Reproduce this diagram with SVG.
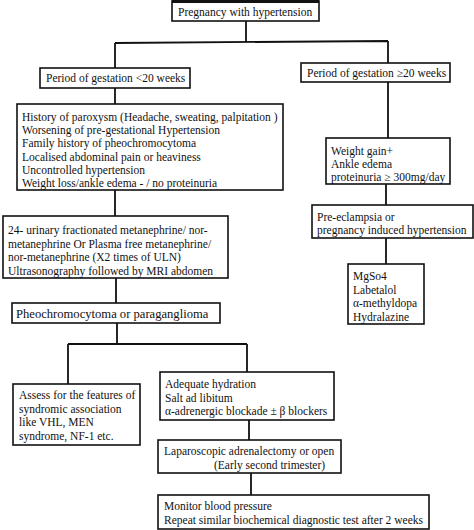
<svg xmlns="http://www.w3.org/2000/svg" width="474" height="530" viewBox="0 0 474 530">
<style>
.box{fill:#fff;stroke:#111;stroke-width:1.6}
.t{font-family:"Liberation Serif","Times New Roman",serif;font-size:11.5px;fill:#111}
.big{font-size:12.6px}
.c{fill:none;stroke:#111;stroke-width:1.8}
</style>
<rect width="474" height="530" fill="#fff"/>
<g id="connectors">
<path class="c" d="M246,21 V42 M115,43 L388,41 M115,43 V68 M388,41 V63 M115,88 V104 M115,190 V216 M116,278 V303 M117,323 V344 M68,344 H247 M68,344 V384 M247,344 V372 M249,420 V440 M251,473 V495 M388,82 V138 M386,184 V205 M386,238 V264"/>
</g>
<g id="n1"><rect class="box" x="172" y="1" width="147" height="20"/><path d="M172,1.5 H319" stroke="#111" stroke-width="3"/><text class="t" x="178" y="16">Pregnancy with hypertension</text></g>
<g id="n2"><rect class="box" x="40" y="68" width="150" height="20"/><text class="t" x="46" y="82">Period of gestation &lt;20 weeks</text></g>
<g id="n3"><rect class="box" x="301" y="63" width="149" height="19"/><text class="t" x="307" y="77">Period of gestation ≥20 weeks</text></g>
<g id="n4"><rect class="box" x="17" y="104" width="266" height="86"/>
<text class="t" x="22" y="121">History of paroxysm (Headache, sweating, palpitation )</text>
<text class="t" x="22" y="134.2">Worsening of pre-gestational Hypertension</text>
<text class="t" x="22" y="147.4">Family history of pheochromocytoma</text>
<text class="t" x="22" y="160.6">Localised abdominal pain or heaviness</text>
<text class="t" x="22" y="173.8">Uncontrolled hypertension</text>
<text class="t" x="22" y="187">Weight loss/ankle edema - / no proteinuria</text></g>
<g id="n5"><rect class="box" x="3" y="216" width="225" height="62"/>
<text class="t" x="8" y="234">24- urinary fractionated metanephrine/ nor-</text>
<text class="t" x="8" y="247.5">metanephrine Or Plasma free metanephrine/</text>
<text class="t" x="8" y="261">nor-metanephrine (X2 times of ULN)</text>
<text class="t" x="8" y="274.5">Ultrasonography followed by MRI abdomen</text></g>
<g id="n6"><rect class="box" x="12" y="303" width="208" height="20"/><text class="t big" x="16" y="318">Pheochromocytoma or paraganglioma</text></g>
<g id="n7"><rect class="box" x="326" y="138" width="124" height="46"/>
<text class="t" x="331" y="155">Weight gain+</text>
<text class="t" x="331" y="168">Ankle edema</text>
<text class="t" x="331" y="181">proteinuria ≥ 300mg/day</text></g>
<g id="n8"><rect class="box" x="312" y="205" width="161" height="33"/>
<text class="t" x="317" y="221">Pre-eclampsia or</text>
<text class="t" x="317" y="234">pregnancy induced hypertension</text></g>
<g id="n9"><rect class="box" x="348" y="264" width="76" height="60"/>
<text class="t" x="353" y="280">MgSo4</text>
<text class="t" x="353" y="293.5">Labetalol</text>
<text class="t" x="353" y="307">α-methyldopa</text>
<text class="t" x="353" y="320.5">Hydralazine</text></g>
<g id="n10"><rect class="box" x="13" y="384" width="127" height="61"/>
<text class="t" x="19" y="399">Assess for the features of</text>
<text class="t" x="19" y="412.5">syndromic association</text>
<text class="t" x="19" y="426">like VHL, MEN</text>
<text class="t" x="19" y="439.5">syndrome, NF-1 etc.</text></g>
<g id="n11"><rect class="box" x="160" y="372" width="174" height="48"/>
<text class="t" x="165" y="388">Adequate hydration</text>
<text class="t" x="165" y="401.5">Salt ad libitum</text>
<text class="t" x="165" y="415">α-adrenergic blockade ± β blockers</text></g>
<g id="n12"><rect class="box" x="158" y="440" width="183" height="33"/>
<text class="t" x="164" y="455">Laparoscopic adrenalectomy or open</text>
<text class="t" x="214" y="469">(Early second trimester)</text></g>
<g id="n13"><rect class="box" x="158" y="495" width="271" height="34"/>
<text class="t" x="164" y="510">Monitor blood pressure</text>
<text class="t" x="164" y="524">Repeat similar biochemical diagnostic test after 2 weeks</text></g>
</svg>
